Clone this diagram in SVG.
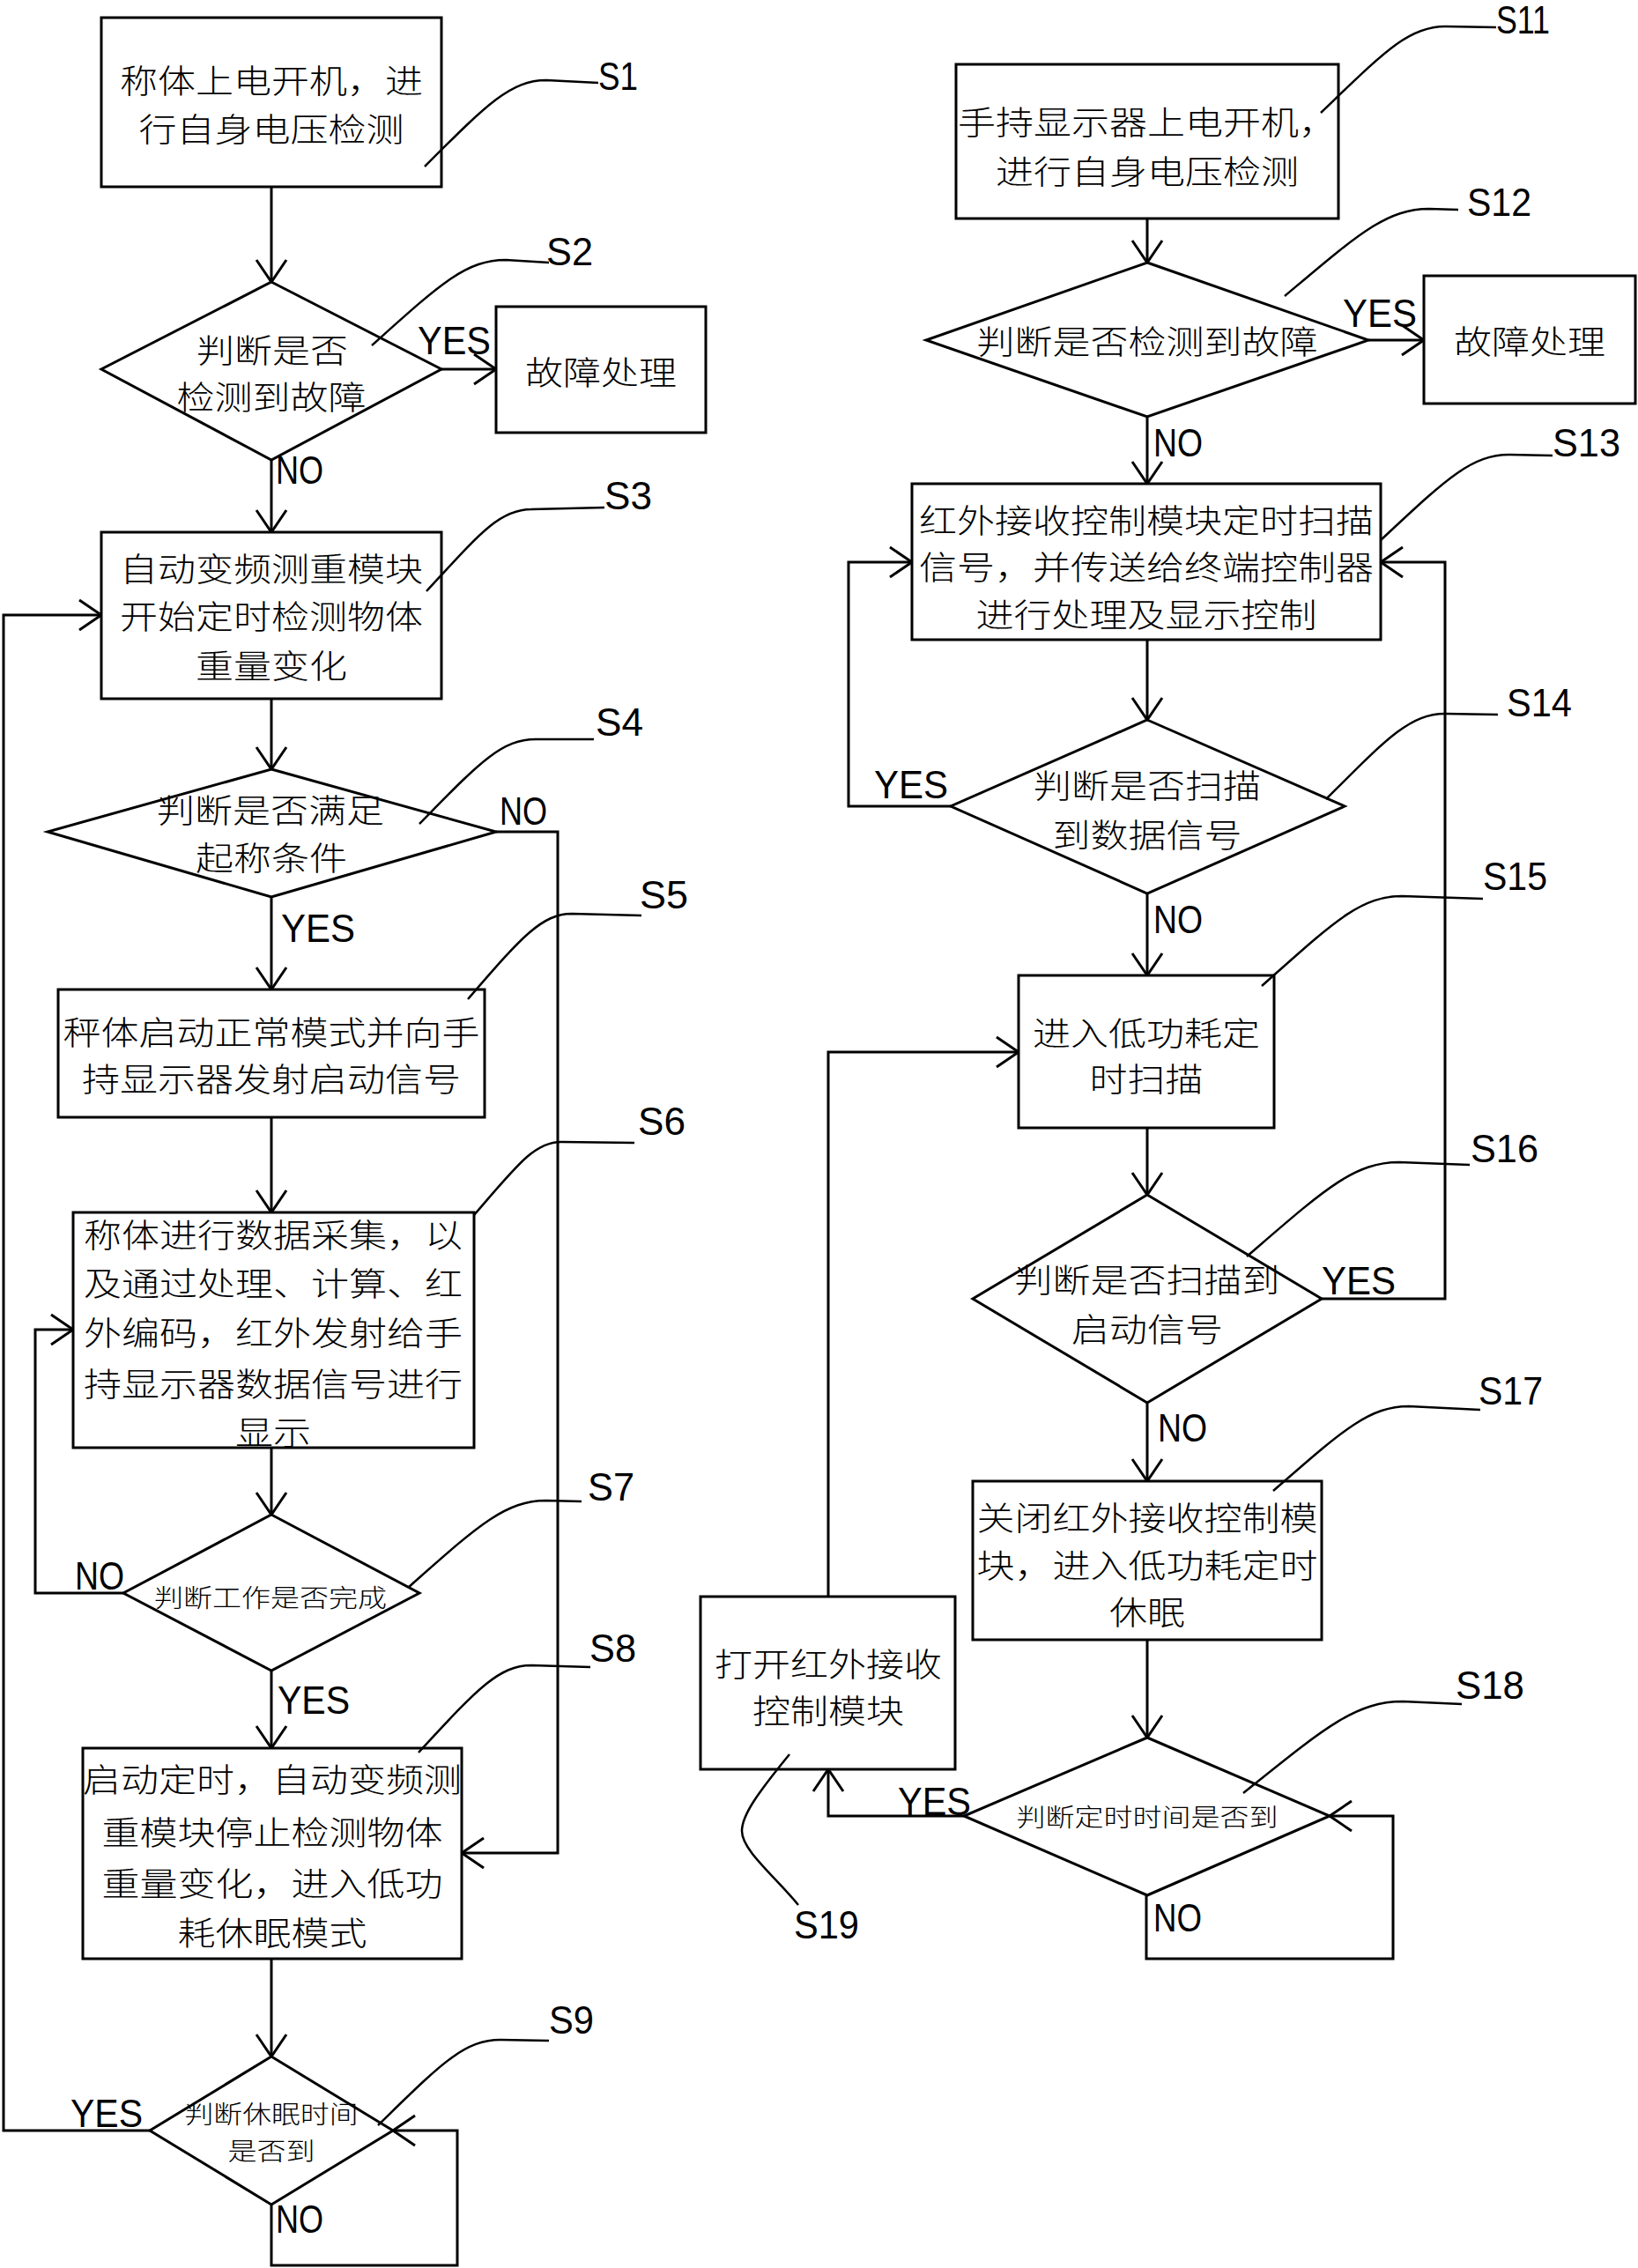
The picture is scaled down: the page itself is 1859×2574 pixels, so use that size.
<svg xmlns="http://www.w3.org/2000/svg" width="1859" height="2574" viewBox="0 0 1859 2574">
<style>
.b{fill:#fff;stroke:#000;stroke-width:3}
.c{fill:none;stroke:#000;stroke-width:3}
.ld{fill:none;stroke:#000;stroke-width:2.5}
.t{font-family:"Noto Sans CJK SC","Noto Sans",sans-serif;font-size:37px;font-weight:300;text-anchor:middle;dominant-baseline:central;fill:#000}
.ts{font-family:"Noto Sans CJK SC","Noto Sans",sans-serif;font-size:28px;font-weight:300;text-anchor:middle;dominant-baseline:central;fill:#000}
.l{font-family:"Liberation Sans",Arial,sans-serif;font-size:44px;fill:#000}
</style>
<defs>
<marker id="ar" viewBox="-30 -22 32 44" refX="0" refY="0" markerWidth="32" markerHeight="44" markerUnits="userSpaceOnUse" orient="auto" overflow="visible">
<path d="M-25,-17 L0,0 L-25,17" fill="none" stroke="#000" stroke-width="3"/>
</marker>
</defs>
<rect x="0" y="0" width="1859" height="2574" fill="#fff"/>

<g id="connectors">
<path class="c" d="M308,212 L308,320" marker-end="url(#ar)"/>
<path class="c" d="M501,419 L563,419" marker-end="url(#ar)"/>
<path class="c" d="M308,522 L308,604" marker-end="url(#ar)"/>
<path class="c" d="M308,793 L308,873" marker-end="url(#ar)"/>
<path class="c" d="M308,1018 L308,1123" marker-end="url(#ar)"/>
<path class="c" d="M563,944 L633,944 L633,2103 L524,2103" marker-end="url(#ar)"/>
<path class="c" d="M308,1268 L308,1376" marker-end="url(#ar)"/>
<path class="c" d="M308,1643 L308,1719" marker-end="url(#ar)"/>
<path class="c" d="M140,1808 L40,1808 L40,1509 L83,1509" marker-end="url(#ar)"/>
<path class="c" d="M308,1896 L308,1984" marker-end="url(#ar)"/>
<path class="c" d="M308,2223 L308,2334" marker-end="url(#ar)"/>
<path class="c" d="M170,2418 L4,2418 L4,698 L115,698" marker-end="url(#ar)"/>
<path class="c" d="M308,2502 L308,2571 L519,2571 L519,2418 L446,2418" marker-end="url(#ar)"/>

<path class="c" d="M1302,248 L1302,298" marker-end="url(#ar)"/>
<path class="c" d="M1553,386 L1616,386" marker-end="url(#ar)"/>
<path class="c" d="M1302,473 L1302,549" marker-end="url(#ar)"/>
<path class="c" d="M1302,726 L1302,817" marker-end="url(#ar)"/>
<path class="c" d="M1079,915 L963,915 L963,638 L1035,638" marker-end="url(#ar)"/>
<path class="c" d="M1302,1014 L1302,1107" marker-end="url(#ar)"/>
<path class="c" d="M1302,1280 L1302,1356" marker-end="url(#ar)"/>
<path class="c" d="M1500,1474 L1640,1474 L1640,638 L1567,638" marker-end="url(#ar)"/>
<path class="c" d="M1302,1592 L1302,1681" marker-end="url(#ar)"/>
<path class="c" d="M1302,1861 L1302,1972" marker-end="url(#ar)"/>
<path class="c" d="M1094,2061 L940,2061 L940,2008" marker-end="url(#ar)"/>
<path class="c" d="M1301,2151 L1301,2223 L1581,2223 L1581,2061 L1509,2061" marker-end="url(#ar)"/>
<path class="c" d="M940,1812 L940,1194 L1156,1194" marker-end="url(#ar)"/>
</g>

<g id="branch-labels">
<text class="l" x="474" y="402" textLength="83" lengthAdjust="spacingAndGlyphs">YES</text>
<text class="l" x="313" y="549" textLength="54" lengthAdjust="spacingAndGlyphs">NO</text>
<text class="l" x="567" y="936" textLength="54" lengthAdjust="spacingAndGlyphs">NO</text>
<text class="l" x="319" y="1069" textLength="84" lengthAdjust="spacingAndGlyphs">YES</text>
<text class="l" x="85" y="1804" textLength="56" lengthAdjust="spacingAndGlyphs">NO</text>
<text class="l" x="315" y="1945" textLength="82" lengthAdjust="spacingAndGlyphs">YES</text>
<text class="l" x="80" y="2414" textLength="82" lengthAdjust="spacingAndGlyphs">YES</text>
<text class="l" x="313" y="2534" textLength="54" lengthAdjust="spacingAndGlyphs">NO</text>
<text class="l" x="1524" y="371" textLength="84" lengthAdjust="spacingAndGlyphs">YES</text>
<text class="l" x="1309" y="518" textLength="56" lengthAdjust="spacingAndGlyphs">NO</text>
<text class="l" x="992" y="906" textLength="84" lengthAdjust="spacingAndGlyphs">YES</text>
<text class="l" x="1309" y="1059" textLength="56" lengthAdjust="spacingAndGlyphs">NO</text>
<text class="l" x="1500" y="1469" textLength="84" lengthAdjust="spacingAndGlyphs">YES</text>
<text class="l" x="1314" y="1636" textLength="56" lengthAdjust="spacingAndGlyphs">NO</text>
<text class="l" x="1019" y="2060" textLength="83" lengthAdjust="spacingAndGlyphs">YES</text>
<text class="l" x="1309" y="2192" textLength="55" lengthAdjust="spacingAndGlyphs">NO</text>
</g>

<g id="S1">
<rect class="b" x="115" y="20" width="386" height="192"/>
<text class="t" x="308" y="90" textLength="344" lengthAdjust="spacingAndGlyphs">称体上电开机，进</text>
<text class="t" x="308" y="145" textLength="301" lengthAdjust="spacingAndGlyphs">行自身电压检测</text>
<path class="ld" d="M482,189 C551,120 579,91 620,91 L679,94"/>
<text class="l" x="679" y="102" textLength="45" lengthAdjust="spacingAndGlyphs">S1</text>
</g>
<g id="S2">
<polygon class="b" points="308,320 501,419 308,522 115,419"/>
<text class="t" x="309" y="396" textLength="172" lengthAdjust="spacingAndGlyphs">判断是否</text>
<text class="t" x="308" y="449" textLength="215" lengthAdjust="spacingAndGlyphs">检测到故障</text>
<path class="ld" d="M422,392 C498,324 528,295 574,295 L623,298"/>
<text class="l" x="620" y="301" textLength="53" lengthAdjust="spacingAndGlyphs">S2</text>
</g>
<g id="fault1">
<rect class="b" x="563" y="348" width="238" height="143"/>
<text class="t" x="682" y="421" textLength="172" lengthAdjust="spacingAndGlyphs">故障处理</text>
</g>
<g id="S3">
<rect class="b" x="115" y="604" width="386" height="189"/>
<text class="t" x="308" y="644" textLength="344" lengthAdjust="spacingAndGlyphs">自动变频测重模块</text>
<text class="t" x="308" y="698" textLength="344" lengthAdjust="spacingAndGlyphs">开始定时检测物体</text>
<text class="t" x="308" y="754" textLength="172" lengthAdjust="spacingAndGlyphs">重量变化</text>
<path class="ld" d="M484,671 C544,606 567,578 603,578 L686,576"/>
<text class="l" x="686" y="578" textLength="54" lengthAdjust="spacingAndGlyphs">S3</text>
</g>
<g id="S4">
<polygon class="b" points="308,873 563,944 308,1018 54,944"/>
<text class="t" x="307" y="918" textLength="258" lengthAdjust="spacingAndGlyphs">判断是否满足</text>
<text class="t" x="308" y="972" textLength="172" lengthAdjust="spacingAndGlyphs">起称条件</text>
<path class="ld" d="M476,935 C542,868 568,839 608,839 L674,839"/>
<text class="l" x="676" y="835" textLength="54" lengthAdjust="spacingAndGlyphs">S4</text>
</g>
<g id="S5">
<rect class="b" x="66" y="1123" width="484" height="145"/>
<text class="t" x="308" y="1170" textLength="473" lengthAdjust="spacingAndGlyphs">秤体启动正常模式并向手</text>
<text class="t" x="308" y="1223" textLength="430" lengthAdjust="spacingAndGlyphs">持显示器发射启动信号</text>
<path class="ld" d="M531,1134 C590,1066 614,1037 649,1037 L728,1039"/>
<text class="l" x="726" y="1031" textLength="55" lengthAdjust="spacingAndGlyphs">S5</text>
</g>
<g id="S6">
<rect class="b" x="83" y="1376" width="455" height="267"/>
<text class="t" x="310" y="1400" textLength="430" lengthAdjust="spacingAndGlyphs">称体进行数据采集，以</text>
<text class="t" x="310" y="1455" textLength="430" lengthAdjust="spacingAndGlyphs">及通过处理、计算、红</text>
<text class="t" x="310" y="1511" textLength="430" lengthAdjust="spacingAndGlyphs">外编码，红外发射给手</text>
<text class="t" x="310" y="1569" textLength="430" lengthAdjust="spacingAndGlyphs">持显示器数据信号进行</text>
<text class="t" x="310" y="1624" textLength="86" lengthAdjust="spacingAndGlyphs">显示</text>
<path class="ld" d="M538,1379 C588,1321 607,1296 637,1296 L720,1297"/>
<text class="l" x="724" y="1288" textLength="54" lengthAdjust="spacingAndGlyphs">S6</text>
</g>
<g id="S7">
<polygon class="b" points="308,1719 476,1808 308,1896 140,1808"/>
<text class="ts" x="307" y="1812" textLength="264" lengthAdjust="spacingAndGlyphs">判断工作是否完成</text>
<path class="ld" d="M464,1801 C542,1732 573,1703 620,1703 L660,1704"/>
<text class="l" x="667" y="1703" textLength="53" lengthAdjust="spacingAndGlyphs">S7</text>
</g>
<g id="S8">
<rect class="b" x="94" y="1984" width="430" height="239"/>
<text class="t" x="309" y="2018" textLength="430" lengthAdjust="spacingAndGlyphs">启动定时，自动变频测</text>
<text class="t" x="309" y="2078" textLength="387" lengthAdjust="spacingAndGlyphs">重模块停止检测物体</text>
<text class="t" x="309" y="2136" textLength="387" lengthAdjust="spacingAndGlyphs">重量变化，进入低功</text>
<text class="t" x="309" y="2192" textLength="215" lengthAdjust="spacingAndGlyphs">耗休眠模式</text>
<path class="ld" d="M475,1989 C539,1920 565,1890 603,1890 L670,1892"/>
<text class="l" x="669" y="1886" textLength="53" lengthAdjust="spacingAndGlyphs">S8</text>
</g>
<g id="S9">
<polygon class="b" points="308,2334 446,2418 308,2502 170,2418"/>
<text class="ts" x="308" y="2398" textLength="197" lengthAdjust="spacingAndGlyphs">判断休眠时间</text>
<text class="ts" x="308" y="2440" textLength="99" lengthAdjust="spacingAndGlyphs">是否到</text>
<path class="ld" d="M429,2412 C499,2344 526,2315 568,2315 L623,2316"/>
<text class="l" x="623" y="2308" textLength="51" lengthAdjust="spacingAndGlyphs">S9</text>
</g>

<g id="S11">
<rect class="b" x="1085" y="73" width="434" height="175"/>
<text class="t" x="1302" y="137" textLength="430" lengthAdjust="spacingAndGlyphs">手持显示器上电开机，</text>
<text class="t" x="1302" y="193" textLength="344" lengthAdjust="spacingAndGlyphs">进行自身电压检测</text>
<path class="ld" d="M1499,128 C1570,60 1598,30 1640,30 L1698,31"/>
<text class="l" x="1698" y="38" textLength="61" lengthAdjust="spacingAndGlyphs">S11</text>
</g>
<g id="S12">
<polygon class="b" points="1302,298 1553,386 1302,473 1051,386"/>
<text class="t" x="1302" y="386" textLength="387" lengthAdjust="spacingAndGlyphs">判断是否检测到故障</text>
<path class="ld" d="M1458,336 C1540,267 1573,237 1622,237 L1655,238"/>
<text class="l" x="1665" y="245" textLength="73" lengthAdjust="spacingAndGlyphs">S12</text>
</g>
<g id="fault2">
<rect class="b" x="1616" y="313" width="240" height="145"/>
<text class="t" x="1736" y="386" textLength="172" lengthAdjust="spacingAndGlyphs">故障处理</text>
</g>
<g id="S13">
<rect class="b" x="1035" y="549" width="532" height="177"/>
<text class="t" x="1301" y="589" textLength="516" lengthAdjust="spacingAndGlyphs">红外接收控制模块定时扫描</text>
<text class="t" x="1301" y="642" textLength="516" lengthAdjust="spacingAndGlyphs">信号，并传送给终端控制器</text>
<text class="t" x="1301" y="696" textLength="387" lengthAdjust="spacingAndGlyphs">进行处理及显示控制</text>
<path class="ld" d="M1567,613 C1640,545 1669,516 1713,516 L1762,517"/>
<text class="l" x="1762" y="518" textLength="77" lengthAdjust="spacingAndGlyphs">S13</text>
</g>
<g id="S14">
<polygon class="b" points="1302,817 1526,915 1302,1014 1079,915"/>
<text class="t" x="1302" y="890" textLength="258" lengthAdjust="spacingAndGlyphs">判断是否扫描</text>
<text class="t" x="1302" y="946" textLength="215" lengthAdjust="spacingAndGlyphs">到数据信号</text>
<path class="ld" d="M1505,907 C1573,839 1600,810 1640,810 L1700,811"/>
<text class="l" x="1710" y="813" textLength="74" lengthAdjust="spacingAndGlyphs">S14</text>
</g>
<g id="S15">
<rect class="b" x="1156" y="1107" width="290" height="173"/>
<text class="t" x="1301" y="1171" textLength="258" lengthAdjust="spacingAndGlyphs">进入低功耗定</text>
<text class="t" x="1301" y="1223" textLength="129" lengthAdjust="spacingAndGlyphs">时扫描</text>
<path class="ld" d="M1432,1119 C1512,1048 1543,1017 1591,1017 L1683,1020"/>
<text class="l" x="1683" y="1010" textLength="73" lengthAdjust="spacingAndGlyphs">S15</text>
</g>
<g id="S16">
<polygon class="b" points="1302,1356 1500,1474 1302,1592 1104,1474"/>
<text class="t" x="1302" y="1451" textLength="301" lengthAdjust="spacingAndGlyphs">判断是否扫描到</text>
<text class="t" x="1302" y="1507" textLength="172" lengthAdjust="spacingAndGlyphs">启动信号</text>
<path class="ld" d="M1415,1426 C1502,1351 1536,1319 1588,1319 L1668,1322"/>
<text class="l" x="1669" y="1319" textLength="77" lengthAdjust="spacingAndGlyphs">S16</text>
</g>
<g id="S17">
<rect class="b" x="1104" y="1681" width="396" height="180"/>
<text class="t" x="1302" y="1721" textLength="387" lengthAdjust="spacingAndGlyphs">关闭红外接收控制模</text>
<text class="t" x="1302" y="1775" textLength="387" lengthAdjust="spacingAndGlyphs">块，进入低功耗定时</text>
<text class="t" x="1302" y="1828" textLength="86" lengthAdjust="spacingAndGlyphs">休眠</text>
<path class="ld" d="M1445,1692 C1522,1625 1553,1596 1599,1596 L1680,1600"/>
<text class="l" x="1678" y="1594" textLength="73" lengthAdjust="spacingAndGlyphs">S17</text>
</g>
<g id="S18">
<polygon class="b" points="1302,1972 1509,2061 1302,2151 1094,2061"/>
<text class="ts" x="1302" y="2061" textLength="297" lengthAdjust="spacingAndGlyphs">判断定时时间是否到</text>
<path class="ld" d="M1411,2035 C1502,1962 1538,1931 1592,1931 L1659,1934"/>
<text class="l" x="1652" y="1928" textLength="78" lengthAdjust="spacingAndGlyphs">S18</text>
</g>
<g id="S19">
<rect class="b" x="795" y="1812" width="289" height="196"/>
<text class="t" x="940" y="1887" textLength="258" lengthAdjust="spacingAndGlyphs">打开红外接收</text>
<text class="t" x="940" y="1940" textLength="172" lengthAdjust="spacingAndGlyphs">控制模块</text>
<path class="ld" d="M896,1991 C860,2035 842,2060 842,2078 C842,2100 880,2130 906,2162"/>
<text class="l" x="901" y="2200" textLength="74" lengthAdjust="spacingAndGlyphs">S19</text>
</g>
</svg>
